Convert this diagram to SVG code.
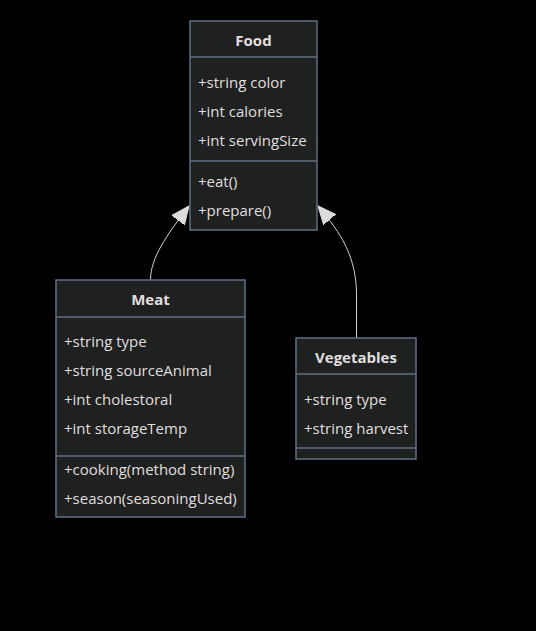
<svg xmlns="http://www.w3.org/2000/svg" width="536" height="631" viewBox="0 0 536 631">
<style>
.box{fill:#1f2020;stroke:#5d7085;stroke-width:1.5}
.div{stroke:#5d7085;stroke-width:1.5}
text{font-family:"Open Sans","DejaVu Sans",sans-serif;font-size:15px;fill:#e0dfdf}
.t{font-weight:bold;text-anchor:middle}
.edge{fill:none;stroke:#d3d3d3;stroke-width:1}
</style>
<defs>
<marker id="ext" markerUnits="userSpaceOnUse" markerWidth="20" markerHeight="16" refX="18" refY="8" orient="auto">
<path d="M0,0 L18,8 L0,16 Z" fill="#dcdcdc" stroke="#dcdcdc"/>
</marker>
</defs>
<rect width="536" height="631" fill="#000"/>
<g id="connectors">
<path class="edge" d="M150.5,280 C150.5,258 166,236 189,206" marker-end="url(#ext)"/>
<path class="edge" d="M356.5,338 L356.5,295 C356.5,258 342,234 318,206" marker-end="url(#ext)"/>
</g>
<g id="Food">
<rect class="box" x="190" y="21" width="127" height="209"/>
<line class="div" x1="190" y1="57" x2="317" y2="57"/>
<line class="div" x1="190" y1="161" x2="317" y2="161"/>
<text class="t" x="253.5" y="46">Food</text>
<text x="198" y="88">+string color</text>
<text x="198" y="117">+int calories</text>
<text x="198" y="146">+int servingSize</text>
<text x="198" y="187">+eat()</text>
<text x="198" y="216">+prepare()</text>
</g>
<g id="Meat">
<rect class="box" x="56" y="280" width="189" height="237"/>
<line class="div" x1="56" y1="317" x2="245" y2="317"/>
<line class="div" x1="56" y1="456" x2="245" y2="456"/>
<text class="t" x="150.5" y="305">Meat</text>
<text x="64" y="347">+string type</text>
<text x="64" y="376">+string sourceAnimal</text>
<text x="64" y="405">+int cholestoral</text>
<text x="64" y="434">+int storageTemp</text>
<text x="64" y="475">+cooking(method string)</text>
<text x="64" y="504">+season(seasoningUsed)</text>
</g>
<g id="Vegetables">
<rect class="box" x="296" y="338" width="120" height="121"/>
<line class="div" x1="296" y1="374" x2="416" y2="374"/>
<line class="div" x1="296" y1="448" x2="416" y2="448"/>
<text class="t" x="356" y="363">Vegetables</text>
<text x="304" y="405">+string type</text>
<text x="304" y="434">+string harvest</text>
</g>
</svg>
